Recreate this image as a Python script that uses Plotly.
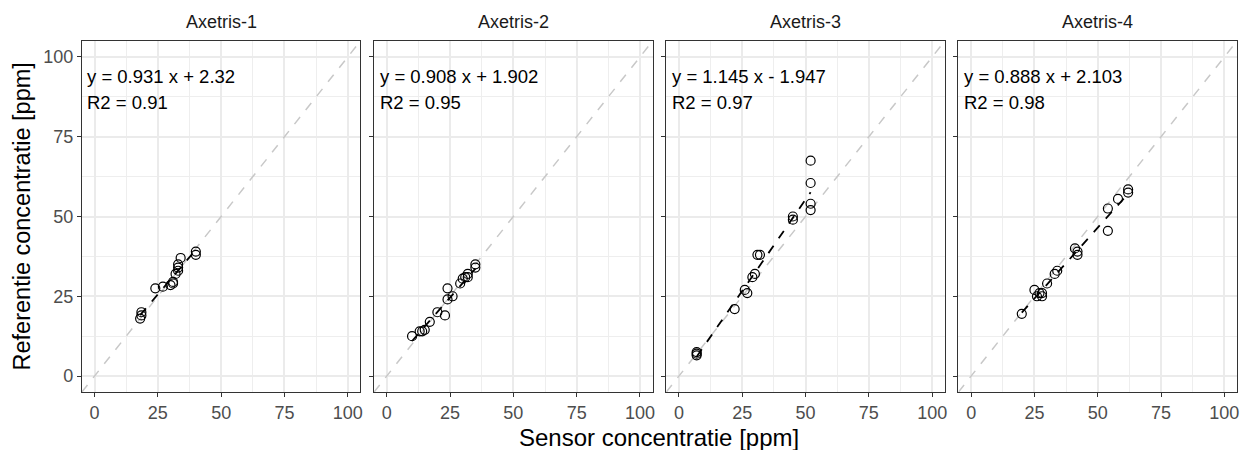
import plotly.graph_objects as go
import numpy as np

panels = ["Axetris-1", "Axetris-2", "Axetris-3", "Axetris-4"]

sensor_1 = [18, 18.5, 18.5, 24, 27, 30, 31, 31, 32, 33, 33, 33, 34, 40, 40]
ref_1 = [18, 19, 20, 27.5, 28, 28.5, 29, 29.5, 32, 33, 34, 35, 37, 38, 39]

sensor_2 = [10, 13, 14, 15, 17, 20, 23, 24, 24, 26, 29, 30, 31, 32, 32, 35, 35]
ref_2 = [12.5, 14, 14, 14.5, 17, 20, 19, 24, 27.5, 25, 29, 30.5, 31, 32, 31, 34, 35]

sensor_3 = [7, 7, 7, 22, 26, 27, 29, 30, 31, 32, 45, 45, 52, 52, 52, 52]
ref_3 = [6.5, 7, 7.5, 21, 27, 26, 31, 32, 38, 38, 49, 50, 52, 54, 60.5, 67.5]

sensor_4 = [20, 25, 26, 27, 28, 28, 30, 33, 34, 41, 42, 42, 54, 54, 58, 62, 62]
ref_4 = [19.5, 27, 25, 26, 25, 26, 29, 32, 33, 40, 38, 39, 45.5, 52.5, 55.5, 57.5, 58.5]

slopes = [0.931, 0.908, 1.145, 0.888]
intercepts = [2.32, 1.902, -1.947, 2.103]
eq_labels = ["y = 0.931 x + 2.32", "y = 0.908 x + 1.902", "y = 1.145 x - 1.947", "y = 0.888 x + 2.103"]
r2_labels = ["R2 = 0.91", "R2 = 0.95", "R2 = 0.97", "R2 = 0.98"]

sensors = [sensor_1, sensor_2, sensor_3, sensor_4]
refs = [ref_1, ref_2, ref_3, ref_4]

ticks = [0, 25, 50, 75, 100]
rng = [-5, 105]

OFF = 8  # page body margin
W, H = 1251 - OFF, 450 - OFF
left_px, right_px = 82 - OFF, 1239 - OFF
top_px, bottom_px = 41 - OFF, 392 - OFF
pw = 279
gap = ((right_px - left_px) - 4 * pw) / 3

FONT = "Liberation Sans, Arial, sans-serif"

fig = go.Figure()
for i in range(4):
    ax = "" if i == 0 else str(i + 1)
    xr = "x" + ax
    yr = "y" + ax
    fig.add_trace(go.Scatter(x=rng, y=rng, mode="lines", xaxis=xr, yaxis=yr,
                             line=dict(color="#C8C8C8", width=1.5, dash="dash"),
                             showlegend=False, hoverinfo="skip"))
    fig.add_trace(go.Scatter(x=sensors[i], y=refs[i], mode="markers", xaxis=xr, yaxis=yr,
                             marker=dict(symbol="circle-open", size=9, color="black",
                                         line=dict(width=1.2, color="black")),
                             showlegend=False))
    xs = np.array([min(sensors[i]), max(sensors[i])])
    ys = slopes[i] * xs + intercepts[i]
    fig.add_trace(go.Scatter(x=xs, y=ys, mode="lines", xaxis=xr, yaxis=yr,
                             line=dict(color="black", width=1.8, dash="dash"),
                             showlegend=False, hoverinfo="skip"))
    x0 = (left_px + i * (pw + gap)) / W
    x1 = (left_px + i * (pw + gap) + pw) / W
    y0 = (H - bottom_px) / H
    y1 = (H - top_px) / H
    common = dict(range=rng, tickvals=ticks, showgrid=True, gridcolor="#EBEBEB", gridwidth=1.6,
                  zeroline=False, showline=True, linecolor="#333333", linewidth=1, mirror=True,
                  ticks="outside", ticklen=4, tickcolor="#333333", tickwidth=1,
                  tickfont=dict(family=FONT, size=18, color="#4D4D4D"),
                  minor=dict(dtick=12.5, tick0=12.5, showgrid=True, gridcolor="#EEEEEE",
                             gridwidth=0.9, ticks=""))
    fig.update_layout(**{
        "xaxis" + ax: dict(domain=[x0, x1], anchor=yr, **common),
        "yaxis" + ax: dict(domain=[y0, y1], anchor=xr, showticklabels=(i == 0), **common),
    })
    fig.add_annotation(text=panels[i], xref="paper", yref="paper", x=(x0 + x1) / 2,
                       y=(H - (22 - OFF)) / H, showarrow=False,
                       font=dict(family=FONT, size=18, color="#1A1A1A"),
                       xanchor="center", yanchor="middle")
    fig.add_annotation(text=eq_labels[i], xref=xr, yref=yr, x=-3.6, y=94, showarrow=False,
                       xanchor="left", yanchor="middle", font=dict(family=FONT, size=18.5, color="black"))
    fig.add_annotation(text=r2_labels[i], xref=xr, yref=yr, x=-3.6, y=85.6, showarrow=False,
                       xanchor="left", yanchor="middle", font=dict(family=FONT, size=18.5, color="black"))

fig.add_annotation(text="Sensor concentratie [ppm]", xref="paper", yref="paper",
                   x=(left_px + right_px) / 2 / W, y=(H - (437 - OFF)) / H, showarrow=False,
                   xanchor="center", yanchor="middle", font=dict(family=FONT, size=24, color="black"))
fig.add_annotation(text="Referentie concentratie [ppm]", xref="paper", yref="paper",
                   x=(22 - OFF) / W, y=(H - (top_px + bottom_px) / 2) / H, showarrow=False,
                   textangle=-90, xanchor="center", yanchor="middle",
                   font=dict(family=FONT, size=23.5, color="black"))

fig.update_layout(width=W, height=H, margin=dict(l=0, r=0, t=0, b=0),
                  plot_bgcolor="white", paper_bgcolor="white", font=dict(family=FONT))
fig.write_html("out.html")
